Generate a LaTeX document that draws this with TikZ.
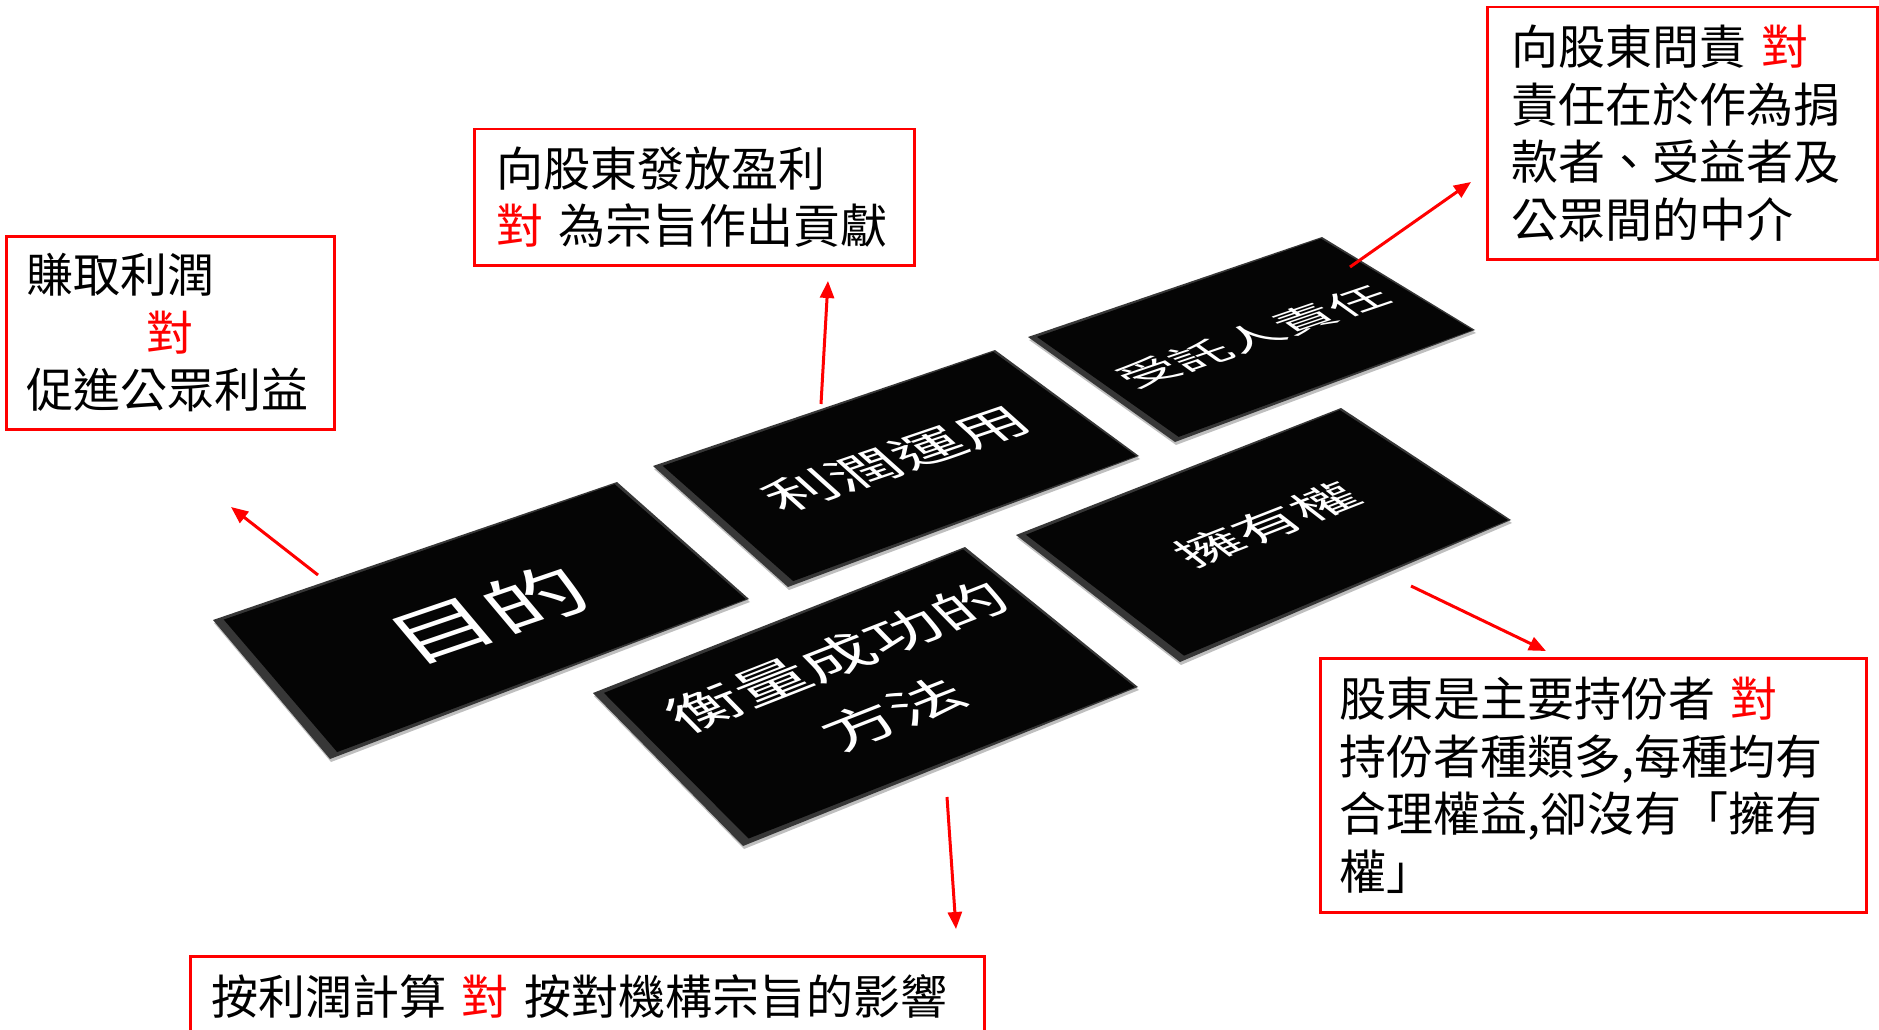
\documentclass[tikz,border=0pt]{standalone}
\usepackage{fontspec}
\newfontfamily\cjk{Noto Sans CJK TC}
\usetikzlibrary{calc,arrows.meta}
\definecolor{boxred}{RGB}{255,0,0}
\definecolor{tilefacecol}{RGB}{5,5,5}
\definecolor{tileedgecol}{RGB}{55,55,55}
\newcommand\tilebody[1]{%
  \fill[tileshadow] ($(#1L)+(1,-3)$) -- ($(#1T)+(1,-3)$) -- ($(#1R)+(1,-3)$) -- ($(#1B)+(1,-3)$) -- cycle;
  \fill[tileedge] (#1L) -- (#1T) -- (#1R) -- (#1B) -- cycle;
  \fill[tileface] ($(#1L)!0.02!(#1R)$) -- ($(#1T)!0.008!(#1B)$) -- ($(#1R)!0.006!(#1L)$) -- ($(#1B)!0.025!(#1T)$) -- cycle;
}
\begin{document}
\begin{tikzpicture}[x=1pt,y=1pt,
  redbox/.style={draw=boxred, line width=2.5pt, fill=white, inner sep=0pt, align=left, anchor=north west, font=\cjk\fontsize{47}{57.5}\selectfont},
  redarrow/.style={draw=boxred, line width=3pt, -{Triangle[length=17pt,width=14pt]}},
  tiletext/.style={text=white, transform shape, align=center, inner sep=0pt},
  tileshadow/.style={fill=black, opacity=0.25},
  tileedge/.style={fill=tileedgecol},
  tileface/.style={fill=tilefacecol}]
\useasboundingbox (0,0) rectangle (1879,-1030);
\clip (0,0) rectangle (1879,-1030);
\fill[white] (0,0) rectangle (1879,-1030);

% tile corners
\coordinate (AL) at (213,-620); \coordinate (AT) at (617,-482); \coordinate (AR) at (749,-599); \coordinate (AB) at (330,-759);
\coordinate (BL) at (653,-466); \coordinate (BT) at (995,-350); \coordinate (BR) at (1139,-456); \coordinate (BB) at (788,-587);
\coordinate (CL) at (1028,-337); \coordinate (CT) at (1322,-237); \coordinate (CR) at (1475,-330); \coordinate (CB) at (1175,-442);
\coordinate (DL) at (1016,-535); \coordinate (DT) at (1341,-408); \coordinate (DR) at (1511,-520); \coordinate (DB) at (1180,-662);
\coordinate (EL) at (593,-693); \coordinate (ET) at (965,-547); \coordinate (ER) at (1138,-687); \coordinate (EB) at (743,-846);

\tilebody{A}
\tilebody{B}
\tilebody{C}
\tilebody{D}
\tilebody{E}

% tile texts
\begin{scope}[cm={0.9464,0.3233,-0.4508,0.5355,(488,-614)}]
  \node[tiletext, font=\cjk\fontsize{98}{98}\selectfont] (tA) at (0,0) {目的};
\end{scope}
\begin{scope}[cm={0.9471,0.3212,-0.5212,0.4672,(896,-459)}]
  \node[tiletext, font=\cjk\fontsize{67}{67}\selectfont] (tB) at (0,0) {利潤運用};
\end{scope}
\begin{scope}[cm={0.9468,0.3221,-0.5697,0.4070,(1253,-337)}]
  \node[tiletext, font=\cjk\fontsize{55}{55}\selectfont] (tC) at (0,0) {受託人責任};
\end{scope}
\begin{scope}[cm={0.9315,0.3640,-0.5535,0.4286,(1267,-525)}]
  \node[tiletext, font=\cjk\fontsize{62}{62}\selectfont] (tD) at (0,0) {擁有權};
\end{scope}
\begin{scope}[cm={0.9309,0.3654,-0.4900,0.4998,(865,-685)}]
  \node[tiletext, font=\cjk\fontsize{71}{114}\selectfont] (tE) at (0,0) {衡量成功的\\方法};
\end{scope}

% red boxes
\node[redbox, minimum width=328pt, minimum height=193pt, text width=288pt] (b1) at (5,-235)
  {賺取利潤\\\hspace*{120pt}\textcolor{boxred}{對}\\促進公眾利益};
\node[redbox, minimum width=440pt, minimum height=136pt, text width=396pt] (b2) at (473,-128)
  {向股東發放盈利\\\textcolor{boxred}{對} 為宗旨作出貢獻};
\node[redbox, minimum width=390pt, minimum height=252pt, text width=342pt] (b3) at (1486,-6)
  {向股東問責 \textcolor{boxred}{對}\\責任在於作為捐\\款者、受益者及\\公眾間的中介};
\node[redbox, minimum width=546pt, minimum height=254pt, text width=508pt] (b4) at (1319,-657)
  {股東是主要持份者 \textcolor{boxred}{對}\\持份者種類多,每種均有\\合理權益,卻沒有「擁有\\權」};
\node[redbox, minimum width=794pt, text width=752pt, inner ysep=17pt, text height=41pt, text depth=7pt] (b5) at (189,-955)
  {按利潤計算 \textcolor{boxred}{對} 按對機構宗旨的影響};

% arrows
\coordinate (aA1) at (318,-575); \coordinate (aA2) at (231,-507);
\coordinate (aB1) at (821,-404); \coordinate (aB2) at (828,-281);
\coordinate (aC1) at (1350,-267); \coordinate (aC2) at (1471,-182);
\coordinate (aD1) at (1411,-586); \coordinate (aD2) at (1546,-651);
\coordinate (aE1) at (947,-797); \coordinate (aE2) at (956,-929);
\draw[redarrow] (aA1) -- (aA2);
\draw[redarrow] (aB1) -- (aB2);
\draw[redarrow] (aC1) -- (aC2);
\draw[redarrow] (aD1) -- (aD2);
\draw[redarrow] (aE1) -- (aE2);
\end{tikzpicture}
\end{document}
